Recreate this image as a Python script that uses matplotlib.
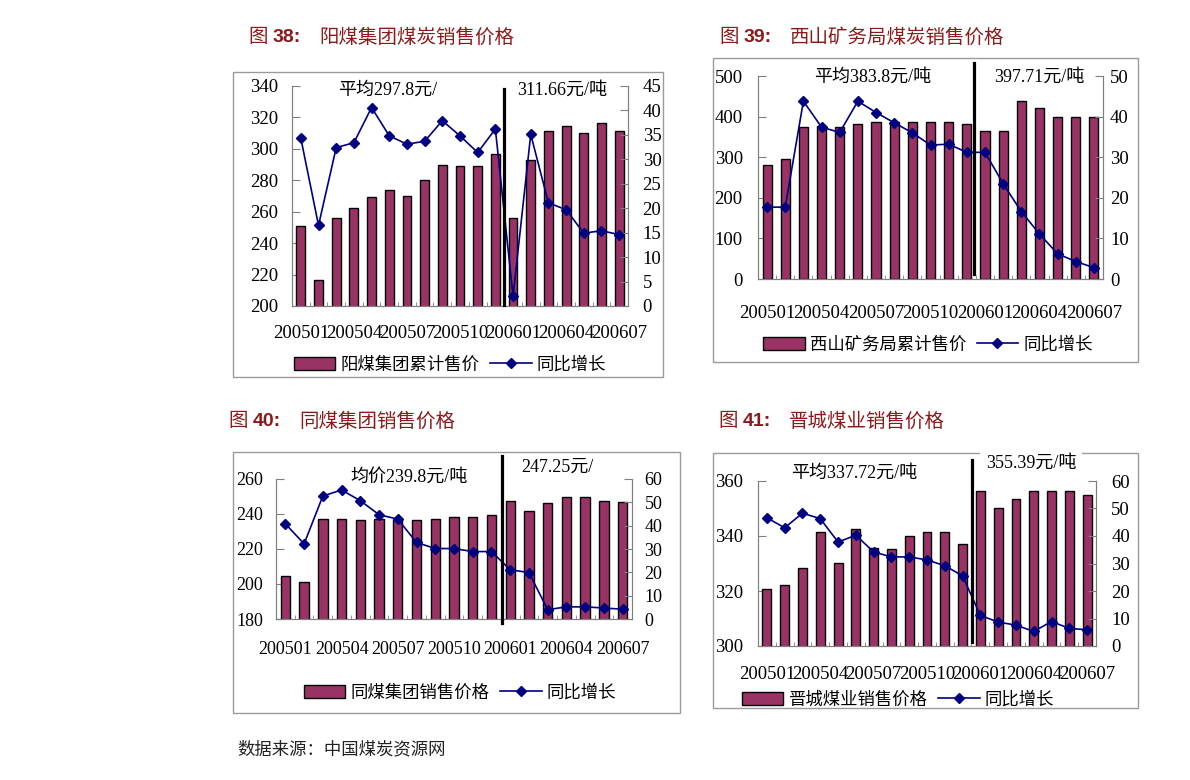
import matplotlib
matplotlib.use("Agg")
import matplotlib.pyplot as plt
from matplotlib.patches import Rectangle
from matplotlib.lines import Line2D

plt.rcParams['font.family'] = ['Liberation Serif', 'Noto Sans CJK SC']

W = 1190
H = 780

# categories (months)
mois = ['200501', '200502', '200503', '200504', '200505', '200506', '200507',
        '200508', '200509', '200510', '200511', '200512', '200601', '200602',
        '200603', '200604', '200605', '200606', '200607']

# fig 38 - yangmei
prix38 = [251, 216.4, 256.3, 262.5, 269.5, 273.7, 270.1, 280.1, 289.9, 288.8,
          288.8, 296.9, 256.3, 292.6, 311.1, 314.5, 310.3, 316.2, 311.1]
hausse38 = [34.3, 16.5, 32.4, 33.4, 40.6, 34.8, 33.1, 33.7, 37.9, 34.8,
            31.4, 36.2, 2.0, 35.1, 21.1, 19.7, 14.9, 15.4, 14.6]

# fig 39 - xishan
prix39 = [281, 296, 374, 378, 374, 383, 386, 386, 386, 386,
          386, 383, 365, 365, 439, 420, 399, 399, 399]
hausse39 = [17.7, 17.7, 43.8, 37.4, 36.1, 43.8, 41.0, 38.5, 36.0, 33.0,
            33.2, 31.2, 31.2, 23.5, 16.6, 11.1, 6.2, 4.3, 2.8]

# fig 40 - tongmei
prix40 = [204.6, 201.4, 237.1, 237.1, 236.3, 237.1, 237.1, 236.3, 237.1, 238.2,
          238.2, 239.7, 247.6, 241.5, 246.0, 249.5, 249.5, 247.6, 246.8]
hausse40 = [40.8, 32.2, 52.7, 55.3, 50.7, 44.7, 42.8, 32.8, 30.2, 30.2,
            28.9, 28.9, 21.1, 19.9, 4.0, 5.2, 5.2, 4.7, 4.2]

# fig 41 - jincheng
prix41 = [320.8, 322.0, 328.4, 341.5, 330.0, 342.6, 335.7, 335.1, 340.1, 341.5,
          341.5, 337.2, 356.4, 350.1, 353.3, 356.5, 356.5, 356.5, 354.8]
hausse41 = [46.6, 43.0, 48.3, 46.3, 37.8, 40.3, 34.2, 32.4, 32.4, 31.3,
            29.2, 25.5, 11.1, 8.7, 7.6, 5.3, 8.9, 6.4, 5.9]

BAR = '#993366'
NAVY = '#000080'
GRIS = '#808080'
ROUGE = '#8B1A1A'


def px(x, y):
    return x / W, 1 - y / H


fig = plt.figure(figsize=(W / 100, H / 100), dpi=100)


# cadre gris autour d'un graphique
def cadre(x0, y0, x1, y1):
    r = Rectangle(px(x0, y1), (x1 - x0) / W, (y1 - y0) / H, transform=fig.transFigure,
                  fill=False, edgecolor='#9a9a9a', linewidth=1)
    fig.patches.append(r)


# titre: "图 NN:  texte"
def titre(x, y, num, texte):
    fig.text(*px(x, y), '图', fontsize=14, color=ROUGE, va='center',
             family=['Noto Sans CJK SC'])
    fig.text(*px(x + 25, y), num + ':', fontsize=14, color=ROUGE, va='center',
             family=['Liberation Sans'], fontweight='bold')
    fig.text(*px(x + 71, y), texte, fontsize=14, color=ROUGE, va='center',
             family=['Noto Sans CJK SC'])


# un graphique barres + ligne
def graphe(box, prix, hausse, ylim, ystep, y2lim, y2step, pads, xpad, ligne, notes, leg, legpos, fs=13.5):
    x0, y0, x1, y1 = box
    ax = fig.add_axes([x0 / W, 1 - y1 / H, (x1 - x0) / W, (y1 - y0) / H])
    xs = list(range(len(mois)))
    ax.bar(xs, prix, width=0.5, color=BAR, edgecolor='black', linewidth=1, zorder=2)
    ax.set_xlim(-0.5, len(mois) - 0.5)
    ax.set_ylim(*ylim)
    ax.set_yticks(range(ylim[0], ylim[1] + 1, ystep))
    ax.set_xticks(xs[::3])
    ax.set_xticklabels(mois[::3])
    ax.set_xticks([i - 0.5 for i in range(len(mois) + 1)], minor=True)
    ax.tick_params(axis='x', which='major', length=0, pad=xpad, labelsize=fs)
    ax.tick_params(axis='x', which='minor', length=3, direction='in', color=GRIS)
    ax.tick_params(axis='y', direction='in', length=6, color=GRIS, pad=pads[0], labelsize=fs)
    for s in ['left', 'bottom', 'right']:
        ax.spines[s].set_color(GRIS)
    ax.spines['top'].set_visible(False)

    ax2 = ax.twinx()
    ax2.plot(xs, hausse, color=NAVY, linewidth=1.2, marker='D', markersize=5.5, zorder=3)
    ax2.set_ylim(*y2lim)
    ax2.set_yticks(range(y2lim[0], y2lim[1] + 1, y2step))
    ax2.tick_params(axis='y', direction='in', length=6, color=GRIS, pad=pads[1], labelsize=fs)
    for s in ['left', 'bottom', 'right']:
        ax2.spines[s].set_color(GRIS)
    ax2.spines['top'].set_visible(False)

    # trait noir de separation 2005 / 2006
    ax2.axvline(ligne[0], ligne[1], ligne[2], color='black', linewidth=2.3, clip_on=False, zorder=4)

    for (tx, ty, t, bg) in notes:
        kw = {}
        if bg:
            kw['bbox'] = dict(facecolor='white', edgecolor='none', pad=4)
        fig.text(*px(tx, ty), t, fontsize=13, va='center', ha='left', **kw)

    hs = [Rectangle((0, 0), 1, 1, facecolor=BAR, edgecolor='black', linewidth=1),
          Line2D([], [], color=NAVY, linewidth=1.2, marker='D', markersize=5.5)]
    ax2.legend(hs, [leg, '同比增长'], loc='center', bbox_to_anchor=px(*legpos),
               bbox_transform=fig.transFigure, ncol=2, frameon=False, fontsize=12.5,
               handlelength=2.4, handleheight=0.8, handletextpad=0.3, columnspacing=0.6)


# cadres
cadre(233, 72, 663, 377)
cadre(713, 58, 1138, 362)
cadre(233, 452, 680, 713)
cadre(713, 453, 1138, 708)

# titres
titre(248, 37, '38', '阳煤集团煤炭销售价格')
titre(719, 37, '39', '西山矿务局煤炭销售价格')
titre(228, 421, '40', '同煤集团销售价格')
titre(718, 421, '41', '晋城煤业销售价格')

graphe((292, 86, 628, 306), prix38, hausse38, (200, 340), 20, (0, 45), 5,
       (10, 10.5), 13.5, (11.5, 0.005, 0.986),
       [(338, 90, '平均297.8元/', False), (517, 90, '311.66元/吨', False)],
       '阳煤集团累计售价', (450, 365))

graphe((758, 76, 1103, 279), prix39, hausse39, (0, 500), 100, (0, 50), 10,
       (11, 5), 18.5, (11.4, 0.025, 1.064),
       [(814, 77, '平均383.8元/吨', False), (994, 77, '397.71元/吨', False)],
       '西山矿务局累计售价', (928, 345))

graphe((276, 479, 632, 619), prix40, hausse40, (180, 260), 20, (0, 60), 10,
       (9.5, 9), 15.5, (11.55, -0.029, 1.164),
       [(350, 477, '均价239.8元/吨', False), (521, 467, '247.25元/', False)],
       '同煤集团销售价格', (460, 693), fs=13)

graphe((758, 481, 1096, 646), prix41, hausse41, (300, 360), 20, (0, 60), 10,
       (11, 11), 14.5, (11.55, 0.024, 1.127),
       [(791, 473, '平均337.72元/吨', False), (986, 463, '355.39元/吨', True)],
       '晋城煤业销售价格', (898, 700))

fig.text(*px(237, 750), '数据来源：中国煤炭资源网', fontsize=12.5, va='center', color='#222222')

fig.savefig('out.png', dpi=100)
